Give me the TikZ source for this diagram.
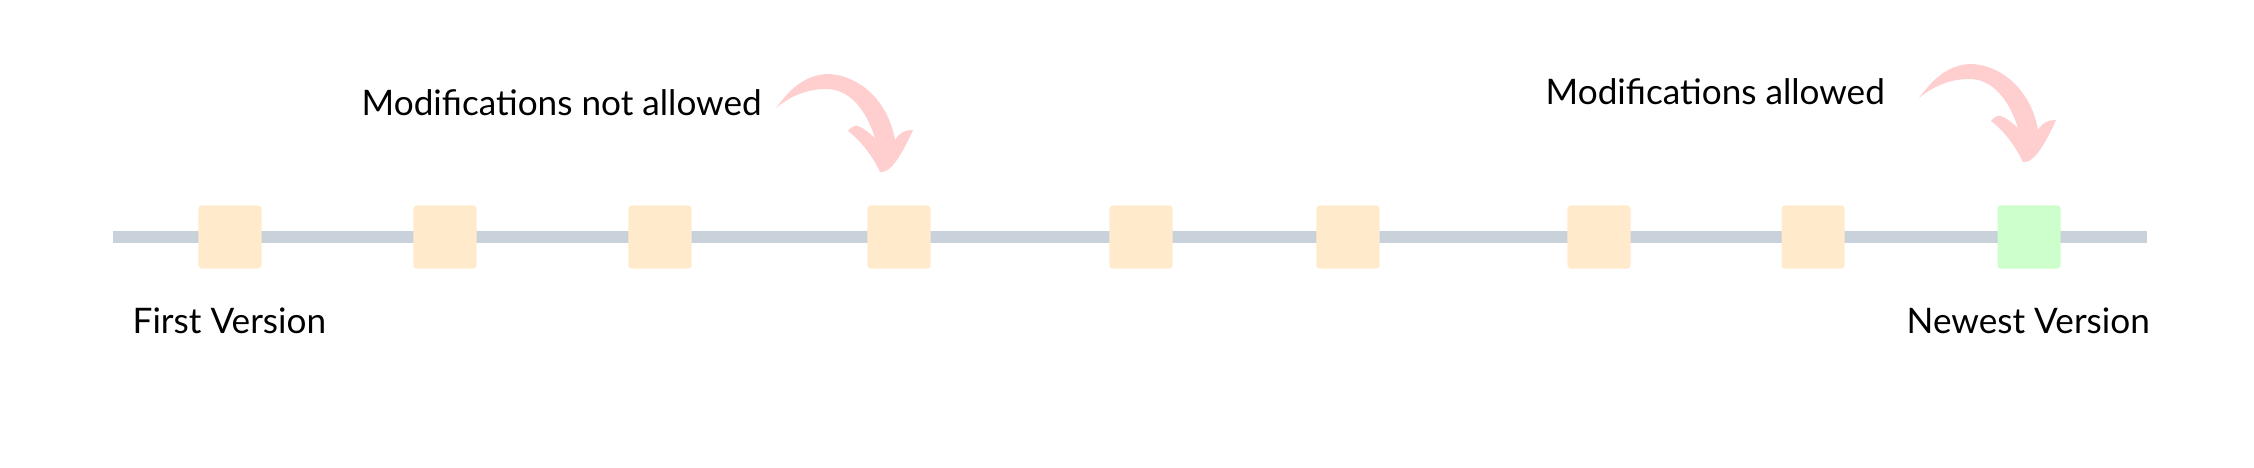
\documentclass[tikz,border=0pt]{standalone}
\usepackage{fontspec}
\setmainfont{Lato}
\definecolor{trackgray}{RGB}{201,209,218}
\definecolor{oldbox}{RGB}{255,234,204}
\definecolor{newbox}{RGB}{204,255,204}
\definecolor{arrowpink}{RGB}{255,206,206}
\tikzset{
	versionbox/.style={rectangle, rounded corners=0.9pt, minimum size=0.63cm, inner sep=0pt, fill=oldbox},
	vtext/.style={anchor=base west, inner sep=0pt, font=\fontsize{10pt}{12pt}\selectfont},
}
% hand drawn bent arrow, shifted by #1 (in pixels of the picture)
\def\bentarrow(#1){\fill[arrowpink, shift={(#1)}] (776,108) .. controls (786,95) and (800,76) .. (826,74)
	.. controls (858,74) and (888,100) .. (895,140)
	.. controls (900,132) and (906,130) .. (913,130)
	.. controls (905,148) and (897,162) .. (890,168)
	.. controls (886,172) and (882,172) .. (880,172)
	.. controls (872,155) and (860,140) .. (848,131)
	.. controls (851,127) and (855,125) .. (858,126)
	.. controls (864,128) and (870,134) .. (875,138)
	.. controls (866,110) and (850,89) .. (826,89)
	.. controls (805,89) and (788,98) .. (776,108) -- cycle;}

\begin{document}
\begin{tikzpicture}[x=0.01cm, y=-0.01cm]
			%%%%% START %%%%%
			
			\useasboundingbox (0, 0) rectangle (2254, 468);
			
			\coordinate (start) at (113, 237);
			\coordinate (end) at (2147, 237);
			\draw[line width=0.12cm, color=trackgray] (start) -- (end);
			
			\node[versionbox] (v1) at (230, 237) {};
			\node[versionbox] (v2) at (445, 237) {};
			\node[versionbox] (v3) at (660, 237) {};
			\node[versionbox] (v4) at (899, 237) {};
			\node[versionbox] (v5) at (1141, 237) {};
			\node[versionbox] (v6) at (1348, 237) {};
			\node[versionbox] (v7) at (1599, 237) {};
			\node[versionbox] (v8) at (1813, 237) {};
			\node[versionbox, fill=newbox] (v9) at (2029, 237) {};
			
			\node[vtext] (notallowed) at (361, 116) {Modifications not allowed};
			\node[vtext] (allowed) at (1545, 105) {Modifications allowed};
			
			\bentarrow(0,0)
			\bentarrow(1143,-10)
			
			\node[vtext] (first) at (132, 334) {First Version};
			\node[vtext] (newest) at (1906, 334) {Newest Version};
			
			%%%%% END %%%%%
		\end{tikzpicture}
\end{document}
